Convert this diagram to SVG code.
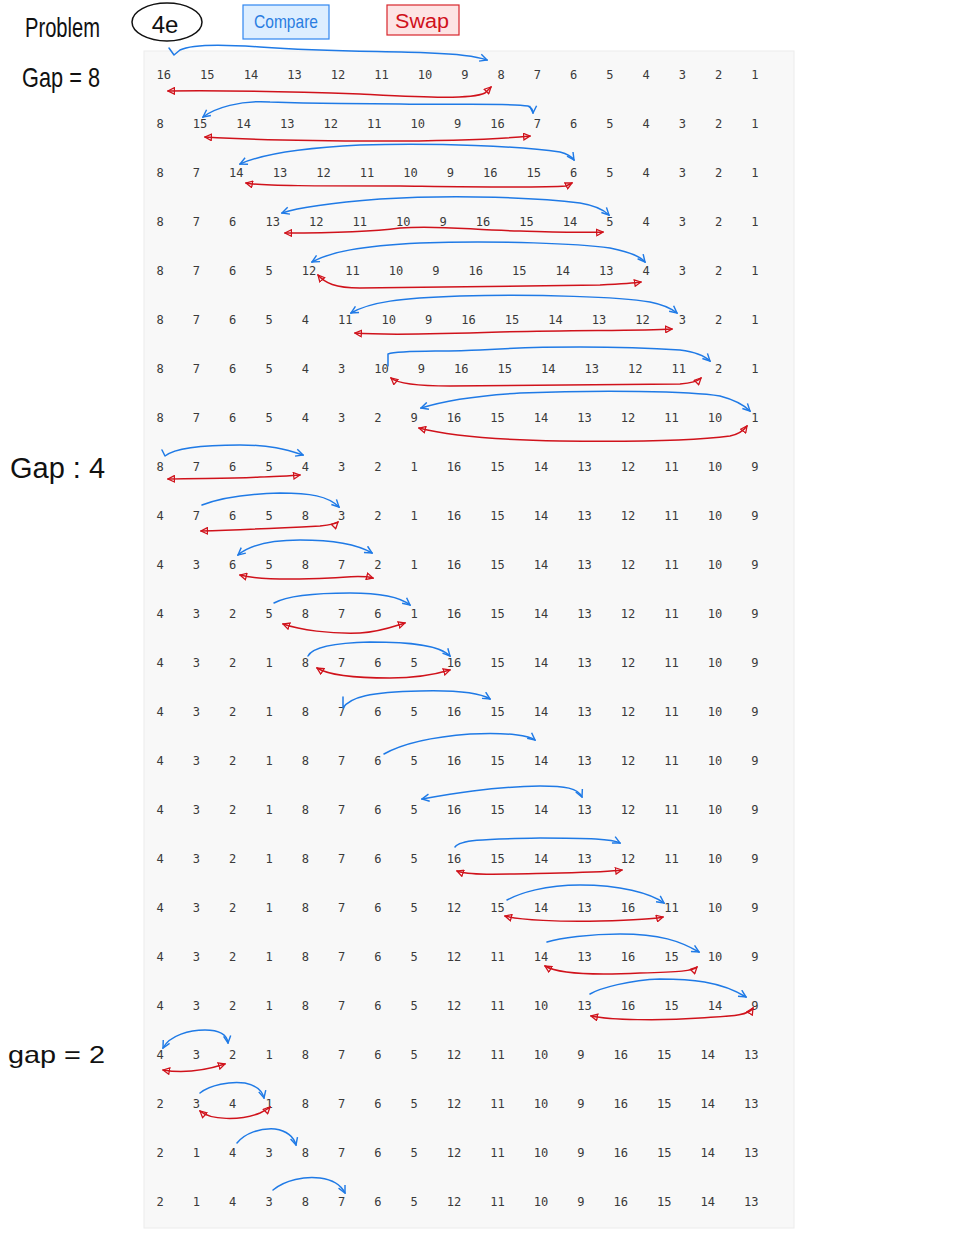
<svg xmlns="http://www.w3.org/2000/svg" width="956" height="1252" viewBox="0 0 956 1252">
<style>
.row{font-family:"DejaVu Sans Mono","Liberation Mono",monospace;font-size:12.06px;fill:#3a3a3a;white-space:pre}
.hw{font-family:"Liberation Sans","DejaVu Sans",sans-serif;fill:#111}
.b{fill:none;stroke:#1f7ae6;stroke-width:1.5;stroke-linecap:round;stroke-linejoin:round;marker-end:url(#ab)}
.bb{marker-start:url(#ab)}
.r{fill:none;stroke:#d0121b;stroke-width:1.5;stroke-linecap:round;stroke-linejoin:round;marker-end:url(#ar);marker-start:url(#ar)}
</style>
<defs>
<marker id="ab" viewBox="0 0 10 10" refX="9" refY="5" markerWidth="9" markerHeight="9" markerUnits="userSpaceOnUse" orient="auto-start-reverse"><path d="M1,1 L9,5 L1,9" fill="none" stroke="#1f7ae6" stroke-width="1.6"/></marker>
<marker id="ar" viewBox="0 0 10 10" refX="9" refY="5" markerWidth="8" markerHeight="8" markerUnits="userSpaceOnUse" orient="auto-start-reverse"><path d="M1,1 L9,5 L1,9 Z" fill="none" stroke="#d0121b" stroke-width="1.6"/></marker>
</defs>
<rect width="956" height="1252" fill="#ffffff"/>
<rect x="144" y="51" width="650" height="1177" fill="#f8f8f8" stroke="#ececec" stroke-width="1"/>
<g id="header">
<text class="hw" x="25" y="37" font-size="28" textLength="75" lengthAdjust="spacingAndGlyphs">Problem</text>
<ellipse cx="167" cy="22" rx="35" ry="19" fill="none" stroke="#111" stroke-width="1.5"/>
<text class="hw" x="165" y="33" font-size="24" text-anchor="middle">4e</text>
<rect x="243" y="5" width="86" height="34" fill="#ddeeff" stroke="#2f86f0" stroke-width="1.2"/>
<text x="286" y="28" font-size="19" text-anchor="middle" fill="#2a7de1" font-family="Liberation Sans, sans-serif" textLength="64" lengthAdjust="spacingAndGlyphs">Compare</text>
<rect x="387" y="5" width="72" height="30" fill="#fde4e4" stroke="#d8262c" stroke-width="1.2"/>
<text x="422" y="28" font-size="20" text-anchor="middle" fill="#d0111b" font-family="Liberation Sans, sans-serif" textLength="54" lengthAdjust="spacingAndGlyphs">Swap</text>
</g>
<g id="labels">
<text class="hw" x="22" y="87" font-size="28" textLength="78" lengthAdjust="spacingAndGlyphs">Gap = 8</text>
<text class="hw" x="10" y="478" font-size="30" textLength="95" lengthAdjust="spacingAndGlyphs">Gap : 4</text>
<text class="hw" x="8" y="1063" font-size="24" textLength="97" lengthAdjust="spacingAndGlyphs">gap = 2</text>
</g>
<g id="rows">
<g id="row1"><text class="row" x="156.6" y="78.5" xml:space="preserve">16    15    14    13    12    11    10    9    8    7    6    5    4    3    2    1</text></g>
<g id="row2"><text class="row" x="156.6" y="127.5" xml:space="preserve">8    15    14    13    12    11    10    9    16    7    6    5    4    3    2    1</text></g>
<g id="row3"><text class="row" x="156.6" y="176.5" xml:space="preserve">8    7    14    13    12    11    10    9    16    15    6    5    4    3    2    1</text></g>
<g id="row4"><text class="row" x="156.6" y="225.5" xml:space="preserve">8    7    6    13    12    11    10    9    16    15    14    5    4    3    2    1</text></g>
<g id="row5"><text class="row" x="156.6" y="274.5" xml:space="preserve">8    7    6    5    12    11    10    9    16    15    14    13    4    3    2    1</text></g>
<g id="row6"><text class="row" x="156.6" y="323.5" xml:space="preserve">8    7    6    5    4    11    10    9    16    15    14    13    12    3    2    1</text></g>
<g id="row7"><text class="row" x="156.6" y="372.5" xml:space="preserve">8    7    6    5    4    3    10    9    16    15    14    13    12    11    2    1</text></g>
<g id="row8"><text class="row" x="156.6" y="421.5" xml:space="preserve">8    7    6    5    4    3    2    9    16    15    14    13    12    11    10    1</text></g>
<g id="row9"><text class="row" x="156.6" y="470.5" xml:space="preserve">8    7    6    5    4    3    2    1    16    15    14    13    12    11    10    9</text></g>
<g id="row10"><text class="row" x="156.6" y="519.5" xml:space="preserve">4    7    6    5    8    3    2    1    16    15    14    13    12    11    10    9</text></g>
<g id="row11"><text class="row" x="156.6" y="568.5" xml:space="preserve">4    3    6    5    8    7    2    1    16    15    14    13    12    11    10    9</text></g>
<g id="row12"><text class="row" x="156.6" y="617.5" xml:space="preserve">4    3    2    5    8    7    6    1    16    15    14    13    12    11    10    9</text></g>
<g id="row13"><text class="row" x="156.6" y="666.5" xml:space="preserve">4    3    2    1    8    7    6    5    16    15    14    13    12    11    10    9</text></g>
<g id="row14"><text class="row" x="156.6" y="715.5" xml:space="preserve">4    3    2    1    8    7    6    5    16    15    14    13    12    11    10    9</text></g>
<g id="row15"><text class="row" x="156.6" y="764.5" xml:space="preserve">4    3    2    1    8    7    6    5    16    15    14    13    12    11    10    9</text></g>
<g id="row16"><text class="row" x="156.6" y="813.5" xml:space="preserve">4    3    2    1    8    7    6    5    16    15    14    13    12    11    10    9</text></g>
<g id="row17"><text class="row" x="156.6" y="862.5" xml:space="preserve">4    3    2    1    8    7    6    5    16    15    14    13    12    11    10    9</text></g>
<g id="row18"><text class="row" x="156.6" y="911.5" xml:space="preserve">4    3    2    1    8    7    6    5    12    15    14    13    16    11    10    9</text></g>
<g id="row19"><text class="row" x="156.6" y="960.5" xml:space="preserve">4    3    2    1    8    7    6    5    12    11    14    13    16    15    10    9</text></g>
<g id="row20"><text class="row" x="156.6" y="1009.5" xml:space="preserve">4    3    2    1    8    7    6    5    12    11    10    13    16    15    14    9</text></g>
<g id="row21"><text class="row" x="156.6" y="1058.5" xml:space="preserve">4    3    2    1    8    7    6    5    12    11    10    9    16    15    14    13</text></g>
<g id="row22"><text class="row" x="156.6" y="1107.5" xml:space="preserve">2    3    4    1    8    7    6    5    12    11    10    9    16    15    14    13</text></g>
<g id="row23"><text class="row" x="156.6" y="1156.5" xml:space="preserve">2    1    4    3    8    7    6    5    12    11    10    9    16    15    14    13</text></g>
<g id="row24"><text class="row" x="156.6" y="1205.5" xml:space="preserve">2    1    4    3    8    7    6    5    12    11    10    9    16    15    14    13</text></g>
</g>
<g id="connectors">
<path class="b" d="M169,48 L174,55 L180,50 C192,44 220,44 260,47 C330,52 380,51 430,53 C460,54 475,56 487,60"/>
<path class="r" d="M168,91 C230,90 300,92 360,94 C420,97 470,100 485,93 L491,87"/>
<path class="b bb" d="M203,117 C215,108 240,100 270,102 C320,104 330,103 400,104 C460,105 510,103 528,106 C532,108 533,111 533,113"/>
<path class="r" d="M205,137 C240,139 300,141 380,141 C460,141 500,139 530,136"/>
<path class="b bb" d="M240,164 C260,155 300,148 360,145 C440,143 520,146 560,152 C568,154 572,157 574,160"/>
<path class="r" d="M246,183 C260,186 320,186 400,186 C480,187 540,188 566,186 L572,183"/>
<path class="b bb" d="M282,213 C300,207 330,203 380,199 C460,194 540,198 580,203 C598,206 605,211 609,215"/>
<path class="r" d="M285,233 C330,233 370,232 400,228 C440,225 470,230 520,231 C560,232 590,233 603,232"/>
<path class="b bb" d="M312,262 C330,252 360,246 420,243 C500,240 580,244 610,248 C630,252 640,256 645,262"/>
<path class="r" d="M318,275 C325,283 335,288 360,288 C450,287 560,286 600,285 C620,284 635,283 641,282"/>
<path class="b bb" d="M351,313 C370,302 400,298 460,296 C540,294 620,297 650,302 C665,305 672,309 677,313"/>
<path class="r" d="M355,333 C380,335 440,334 500,332 C580,330 640,331 672,329"/>
<path class="b" d="M388,366 L388,354 C400,350 440,352 480,350 C540,346 620,346 680,350 C695,352 705,356 710,361"/>
<path class="r" d="M391,378 C398,384 420,386 450,386 C550,385 640,384 680,384 C692,383 698,381 701,378"/>
<path class="b bb" d="M421,408 C440,402 470,396 520,393 C600,390 690,391 720,396 C735,400 744,405 750,411"/>
<path class="r" d="M419,428 C450,436 500,440 560,441 C640,442 700,440 730,436 C740,434 744,430 747,426"/>
<path class="b" d="M162,450 L165,456 C175,448 200,445 240,445 C270,445 285,449 303,455"/>
<path class="r" d="M168,479 C200,478 230,479 260,477 C280,476 292,476 300,475"/>
<path class="b" d="M202,505 C215,500 240,494 280,493 C310,493 328,496 339,507"/>
<path class="r" d="M201,531 C240,530 280,528 320,526 C330,525 336,524 338,522"/>
<path class="b bb" d="M238,555 C250,545 270,540 300,540 C340,540 360,546 372,553"/>
<path class="r" d="M240,575 C260,580 290,580 330,578 C350,577 362,575 373,578"/>
<path class="b" d="M274,603 C285,597 310,593 350,593 C380,593 400,597 410,605"/>
<path class="r" d="M283,624 C300,630 330,634 360,633 C380,632 395,626 405,623"/>
<path class="b" d="M308,656 C312,648 330,643 370,642 C410,642 440,645 450,656"/>
<path class="r" d="M317,668 C330,676 360,678 390,678 C420,678 440,673 450,670"/>
<path class="b" d="M343,697 L343,708 C350,697 370,692 420,691 C460,690 480,693 490,699"/>
<path class="b" d="M384,754 C400,745 430,737 470,734 C510,732 530,736 535,740"/>
<path class="b bb" d="M422,799 C450,794 490,787 540,786 C565,786 578,788 582,797"/>
<path class="b" d="M455,847 C460,840 480,839 540,838 C590,838 612,839 620,843"/>
<path class="r" d="M457,871 C470,876 510,874 560,873 C600,872 615,871 622,870"/>
<path class="b" d="M507,900 C520,893 545,885 580,885 C620,885 650,893 664,903"/>
<path class="r" d="M505,916 C520,920 560,922 600,921 C640,920 655,919 663,917"/>
<path class="b" d="M547,942 C560,938 590,934 620,934 C660,934 680,941 699,952"/>
<path class="r" d="M545,966 C560,975 600,975 640,973 C680,972 693,971 697,967"/>
<path class="b" d="M590,994 C600,988 630,980 660,979 C690,979 720,981 746,997"/>
<path class="r" d="M591,1016 C610,1020 660,1021 700,1018 C730,1016 748,1016 753,1008"/>
<path class="b bb" d="M163,1048 C170,1035 190,1030 205,1030 C220,1030 227,1035 228,1043"/>
<path class="r" d="M163,1070 C180,1073 200,1072 225,1064"/>
<path class="b" d="M200,1093 C210,1085 230,1081 245,1083 C255,1085 262,1090 264,1098"/>
<path class="r" d="M200,1111 C210,1120 240,1121 260,1113 C266,1110 269,1108 270,1107"/>
<path class="b" d="M237,1143 C245,1133 260,1128 275,1129 C288,1131 294,1138 296,1145"/>
<path class="b" d="M273,1190 C285,1180 305,1176 320,1178 C335,1180 342,1187 345,1193"/>
</g>
</svg>
